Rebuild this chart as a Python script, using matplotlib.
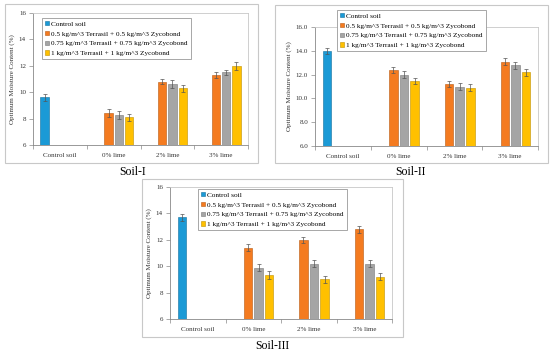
import numpy as np
import matplotlib
matplotlib.use('Agg')
import matplotlib.pyplot as plt
from matplotlib.patches import Rectangle

plt.rcParams['font.family'] = ['Liberation Serif', 'DejaVu Serif']

# Datos
categories = ['Control soil', '0% lime', '2% lime', '3% lime']
series_labels = ['Control soil',
                 '0.5 kg/m^3 Terrasil + 0.5 kg/m^3 Zycobond',
                 '0.75 kg/m^3 Terrasil + 0.75 kg/m^3 Zycobond',
                 '1 kg/m^3 Terrasil + 1 kg/m^3 Zycobond']
colors = ['#1b9ad6', '#f47b20', '#a5a5a5', '#ffc000']
edges = ['#13709d', '#b85a12', '#7a7a7a', '#bf9000']

# Soil-I
s1_control, s1_control_err = 9.6, 0.25
s1_t05 = [8.4, 10.8, 11.3]
s1_t075 = [8.3, 10.6, 11.5]
s1_t1 = [8.1, 10.3, 12.0]
s1_err = [[0.3, 0.2, 0.25], [0.3, 0.3, 0.2], [0.25, 0.25, 0.3]]

# Soil-II
s2_control, s2_control_err = 14.0, 0.25
s2_t05 = [12.4, 11.2, 13.1]
s2_t075 = [12.0, 11.0, 12.8]
s2_t1 = [11.5, 10.9, 12.2]
s2_err = [[0.25, 0.25, 0.3], [0.3, 0.3, 0.3], [0.25, 0.3, 0.3]]

# Soil-III
s3_control, s3_control_err = 13.7, 0.25
s3_t05 = [11.4, 12.0, 12.8]
s3_t075 = [9.9, 10.2, 10.2]
s3_t1 = [9.3, 9.0, 9.2]
s3_err = [[0.25, 0.25, 0.25], [0.25, 0.25, 0.25], [0.3, 0.25, 0.25]]

W, H = 550, 355
fig = plt.figure(figsize=(W / 100, H / 100), dpi=100)


def px_axes(x0, y0, x1, y1):
    return fig.add_axes([x0 / W, 1 - y1 / H, (x1 - x0) / W, (y1 - y0) / H])


def px_box(x0, y0, x1, y1):
    fig.patches.append(Rectangle((x0 / W, 1 - y1 / H), (x1 - x0) / W, (y1 - y0) / H,
                                 transform=fig.transFigure, fill=False,
                                 edgecolor='#c8c8c8', linewidth=0.8))


def panel(ax, control, control_err, t05, t075, t1, err, fmt, leg_xy, title, title_xy):
    slot = 0.19
    bw = 0.155
    x = np.arange(len(categories))
    errkw = dict(ecolor='#555555', elinewidth=0.5, capsize=1.5, capthick=0.5)
    # barra de control solo en el primer grupo
    ax.bar(x[0] - 1.5 * slot, control, bw, yerr=control_err, color=colors[0],
           edgecolor=edges[0], linewidth=0.4, error_kw=errkw, label=series_labels[0])
    for i, vals in enumerate([t05, t075, t1]):
        ax.bar(x[1:] + (i - 0.5) * slot, vals, bw, yerr=err[i], color=colors[i + 1],
               edgecolor=edges[i + 1], linewidth=0.4, error_kw=errkw,
               label=series_labels[i + 1])
    ax.set_xlim(-0.5, 3.5)
    ax.set_ylim(6, 16)
    ax.set_yticks(np.arange(6, 17, 2))
    ax.set_yticklabels([fmt.format(v) for v in np.arange(6, 17, 2)])
    ax.set_xticks(x)
    ax.set_xticklabels(categories)
    ax.set_xticks(np.arange(-0.5, 3.6, 1), minor=True)
    ax.tick_params(axis='x', which='major', length=0, labelsize=5, pad=6, colors='#333333')
    ax.tick_params(axis='x', which='minor', length=3, width=0.5, color='#888888')
    ax.tick_params(axis='y', length=3, width=0.5, labelsize=5, pad=2,
                   color='#888888', labelcolor='#333333')
    for s in ['top', 'right']:
        ax.spines[s].set_color('#c8c8c8')
        ax.spines[s].set_linewidth(0.6)
    for s in ['left', 'bottom']:
        ax.spines[s].set_color('#888888')
        ax.spines[s].set_linewidth(0.6)
    ax.set_ylabel('Optimum Moisture Content (%)', fontsize=5, color='#333333', labelpad=3)
    leg = ax.legend(loc='upper left', bbox_to_anchor=(leg_xy[0] / W, 1 - leg_xy[1] / H),
                    bbox_transform=fig.transFigure, borderaxespad=0, fontsize=5.2,
                    frameon=True, fancybox=False, edgecolor='#999999', framealpha=1,
                    handlelength=0.6, handleheight=0.6, handletextpad=0.3,
                    labelspacing=0.55, borderpad=0.4)
    leg.get_frame().set_linewidth(0.6)
    fig.text(title_xy[0] / W, 1 - title_xy[1] / H, title, fontsize=8.5,
             ha='center', va='center')


px_box(5, 4, 258, 163)
px_box(275, 5, 548, 163)
px_box(142, 179, 403, 337)

ax1 = px_axes(33, 13, 248, 145)
panel(ax1, s1_control, s1_control_err, s1_t05, s1_t075, s1_t1, s1_err, '{:.0f}',
      (42, 18), 'Soil-I', (133, 172))

ax2 = px_axes(315, 27, 538, 146)
panel(ax2, s2_control, s2_control_err, s2_t05, s2_t075, s2_t1, s2_err, '{:.1f}',
      (337, 10), 'Soil-II', (410, 172))

ax3 = px_axes(170, 187, 392, 319)
panel(ax3, s3_control, s3_control_err, s3_t05, s3_t075, s3_t1, s3_err, '{:.0f}',
      (198, 189), 'Soil-III', (272, 346))

fig.savefig('out.png', dpi=100)
